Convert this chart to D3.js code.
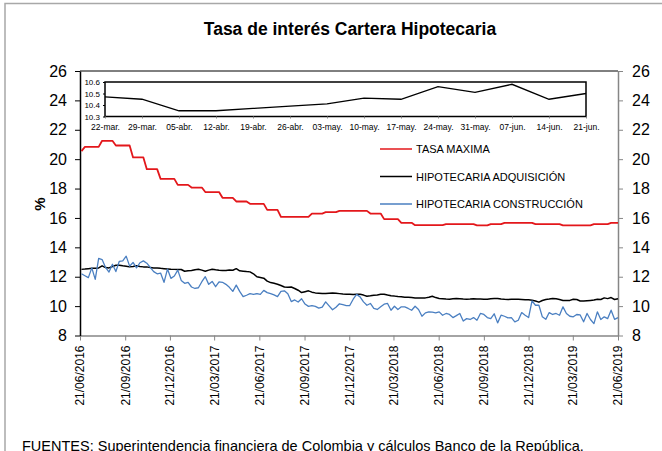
<!DOCTYPE html>
<html>
<head>
  <meta charset="utf-8">
  <title>Tasa de interés Cartera Hipotecaria</title>
  <script src="https://d3js.org/d3.v7.min.js"></script>
  <style>
    body { margin: 0; background: #fff; }
    svg { display: block; font-family: "Liberation Sans", Arial, sans-serif; }
  </style>
</head>
<body>
  <svg id="chart" width="662" height="451"></svg>

  <script>
    // Tasa maxima, un valor por mes (jun-2016 ... jun-2019)
    var tasaMaximaMensual = [
      20.55, 20.84, 21.25, 20.93, 20.12, 19.32, 18.66,
      18.25, 18.07, 17.76, 17.37, 17.12, 16.96, 16.55, 16.07, 16.07, 16.30, 16.39, 16.48,
      16.48, 16.30, 15.92, 15.67, 15.51, 15.51, 15.58, 15.58, 15.49, 15.58, 15.67, 15.67,
      15.58, 15.58, 15.49, 15.49, 15.58, 15.67
    ];

    // Series semanales (viernes 24/06/2016 ... 21/06/2019)
    var hipotecariaAdquisicion = [
      12.5, 12.52, 12.55, 12.57, 12.58, 12.6, 12.74, 12.62, 12.6, 12.7,
      12.78, 12.78, 12.74, 12.72, 12.67, 12.7, 12.74, 12.7, 12.67, 12.67,
      12.62, 12.6, 12.6, 12.57, 12.55, 12.53, 12.51, 12.5, 12.49, 12.49,
      12.37, 12.4, 12.42, 12.48, 12.51, 12.45, 12.37, 12.45, 12.51, 12.47,
      12.44, 12.43, 12.42, 12.46, 12.44, 12.55, 12.4, 12.38, 12.35, 12.33,
      12.2, 12.0, 11.95, 11.9, 11.7, 11.6, 11.55, 11.49, 11.4, 11.3,
      11.28, 11.3, 11.2, 11.08, 10.92, 10.98, 11.04, 10.95, 10.9, 10.88,
      10.86, 10.86, 10.88, 10.9, 10.88, 10.85, 10.82, 10.81, 10.8, 10.79,
      10.8, 10.81, 10.75, 10.67, 10.7, 10.74, 10.76, 10.8, 10.81, 10.75,
      10.7, 10.68, 10.65, 10.63, 10.61, 10.6, 10.58, 10.56, 10.56, 10.56,
      10.56, 10.6, 10.67, 10.58, 10.52, 10.5, 10.48, 10.47, 10.5, 10.52,
      10.5, 10.48, 10.47, 10.48, 10.5, 10.49, 10.48, 10.47, 10.47, 10.5,
      10.51, 10.52, 10.48, 10.46, 10.45, 10.46, 10.47, 10.47, 10.45, 10.43,
      10.43, 10.40, 10.35, 10.27, 10.38, 10.45, 10.48, 10.52, 10.5, 10.45,
      10.38, 10.38, 10.39,
      10.47, 10.45, 10.35, 10.35, 10.37, 10.39, 10.41, 10.46, 10.45, 10.56, 10.51, 10.58, 10.45, 10.50
    ];

    var hipotecariaConstruccion = [
      12.2, 12.07, 11.94, 12.6, 11.82, 13.25, 13.17, 12.63, 12.32, 12.85,
      12.35, 13.05, 13.08, 13.4, 12.72, 12.97, 12.6, 12.95, 13.08, 12.92,
      12.63, 12.35, 12.2, 12.25, 11.62, 12.52, 11.89, 12.05, 12.45, 11.75,
      11.55, 11.62, 11.3, 11.2, 11.25, 11.66, 12.0, 11.48, 11.68, 11.32,
      11.65, 11.62, 11.48, 11.28, 11.0, 11.43, 11.0, 10.65, 10.74, 10.85,
      10.8, 10.85, 10.8, 11.07, 10.92, 10.85, 10.76, 10.65, 11.0, 11.04,
      10.84, 10.31, 10.42, 10.28, 10.5, 10.14, 9.98, 10.03, 9.98, 9.86,
      9.93, 10.29, 10.02, 9.75, 9.92, 10.16, 10.1, 10.03, 10.04, 10.47,
      10.8, 10.63, 10.29, 10.06, 10.18, 9.84, 9.77, 9.95, 10.13, 10.18,
      9.72, 9.99, 9.77, 9.95, 9.95, 9.84, 9.72, 9.99, 9.77, 9.31,
      9.54, 9.61, 9.59, 9.54, 9.61, 9.38, 9.5, 9.43, 9.22, 9.35,
      9.5, 8.98, 9.15, 9.09, 9.22, 9.04, 9.5, 9.43, 9.22, 9.15,
      9.48, 8.86, 9.38, 9.31, 9.2, 9.22, 8.93, 9.04, 9.56, 9.38,
      9.22, 10.36, 10.06, 10.06, 9.27, 9.1, 9.56, 9.43, 9.5, 9.38,
      9.95, 9.5, 9.31, 9.27, 9.43, 9.4, 8.93, 9.5, 9.09, 8.81,
      9.61, 9.09, 9.27, 9.15, 9.72, 9.1, 9.22
    ];

    var ticksFechas = [
      "21/06/2016", "21/09/2016", "21/12/2016", "21/03/2017", "21/06/2017",
      "21/09/2017", "21/12/2017", "21/03/2018", "21/06/2018", "21/09/2018",
      "21/12/2018", "21/03/2019", "21/06/2019"
    ];
    var ticksY = [8, 10, 12, 14, 16, 18, 20, 22, 24, 26];

    // Recuadro: ultimas 14 semanas de adquisicion
    var insetFechas = [
      "22-mar.", "29-mar.", "05-abr.", "12-abr.", "19-abr.", "26-abr.", "03-may.",
      "10-may.", "17-may.", "24-may.", "31-may.", "07-jun.", "14-jun.", "21-jun."
    ];
    var insetTicksY = [10.3, 10.4, 10.5, 10.6];

    var nombresSeries = ["TASA MAXIMA", "HIPOTECARIA ADQUISICIÓN", "HIPOTECARIA CONSTRUCCIÓN"];
    var coloresSeries = ["#e3171b", "#000000", "#4a7fc1"];

    var parseFecha = d3.timeParse("%d/%m/%Y");
    var formatFecha = d3.timeFormat("%d/%m/%Y");

    // Fechas semanales (viernes)
    var fechas = d3.timeFriday.range(new Date(2016, 5, 24), new Date(2019, 5, 22));

    var data = fechas.map(function(d, i) {
      var mes = (d.getFullYear() - 2016) * 12 + d.getMonth() - 5;
      return {
        date: d,
        tasa: tasaMaximaMensual[mes],
        adq: hipotecariaAdquisicion[i],
        cons: hipotecariaConstruccion[i]
      };
    });

    var svg = d3.select("#chart");

    // Marco gris exterior
    svg.append("path")
      .attr("d", "M5,451V3.5H662")
      .attr("fill", "none")
      .attr("stroke", "#a8a8a8")
      .attr("stroke-width", 1.5);

    // Titulo
    svg.append("text")
      .attr("x", 350)
      .attr("y", 35)
      .attr("text-anchor", "middle")
      .attr("font-size", "17.5px")
      .attr("font-weight", "bold")
      .text("Tasa de interés Cartera Hipotecaria");

    // Escalas
    var plotLeft = 80, plotRight = 618, plotTop = 71, plotBottom = 335.5;
    var x = d3.scaleTime()
      .domain([parseFecha(ticksFechas[0]), parseFecha(ticksFechas[ticksFechas.length - 1])])
      .range([plotLeft, plotRight]);
    var y = d3.scaleLinear().domain([8, 26]).range([plotBottom, plotTop]);

    // Linea superior del area de trazado
    svg.append("line")
      .attr("x1", plotLeft).attr("x2", plotRight)
      .attr("y1", plotTop).attr("y2", plotTop)
      .attr("stroke", "#000")
      .attr("stroke-width", 1);

    // Eje X
    var xAxis = svg.append("g")
      .attr("transform", "translate(0," + plotBottom + ")")
      .call(d3.axisBottom(x)
        .tickValues(ticksFechas.map(parseFecha))
        .tickFormat(formatFecha)
        .tickSize(5)
        .tickSizeOuter(0));
    xAxis.select(".domain").attr("stroke", "#868686").attr("stroke-width", 1.5);
    xAxis.selectAll(".tick line").attr("stroke", "#868686");
    xAxis.selectAll("text")
      .attr("transform", "rotate(-90)")
      .attr("x", -10)
      .attr("y", 0)
      .attr("dy", "0.33em")
      .attr("text-anchor", "end")
      .attr("font-size", "12px")
      .attr("font-family", "Liberation Sans, Arial, sans-serif")
      .attr("fill", "#000");

    // Eje Y izquierdo
    var yLeft = svg.append("g")
      .attr("transform", "translate(" + plotLeft + ",0)")
      .call(d3.axisLeft(y).tickValues(ticksY).tickSize(5).tickPadding(8).tickSizeOuter(0));
    yLeft.select(".domain").attr("stroke", "#000").attr("stroke-width", 1.5);
    yLeft.selectAll(".tick line").attr("stroke", "#000");
    yLeft.selectAll("text")
      .attr("font-size", "16px")
      .attr("font-family", "Liberation Sans, Arial, sans-serif")
      .attr("fill", "#000");

    // Eje Y derecho
    var yRight = svg.append("g")
      .attr("transform", "translate(" + plotRight + ",0)")
      .call(d3.axisRight(y).tickValues(ticksY).tickSize(5).tickPadding(9).tickSizeOuter(0));
    yRight.select(".domain").attr("stroke", "#868686").attr("stroke-width", 1.5);
    yRight.selectAll(".tick line").attr("stroke", "#868686");
    yRight.selectAll("text")
      .attr("font-size", "16px")
      .attr("font-family", "Liberation Sans, Arial, sans-serif")
      .attr("fill", "#000");

    // Titulo eje Y
    svg.append("text")
      .attr("transform", "translate(39,204) rotate(-90)")
      .attr("text-anchor", "middle")
      .attr("dominant-baseline", "central")
      .attr("font-size", "15px")
      .attr("font-weight", "bold")
      .text("%");

    // Lineas
    var keys = ["tasa", "adq", "cons"];
    var anchos = [1.8, 1.5, 1.3];
    keys.forEach(function(k, i) {
      var line = d3.line()
        .x(function(d) { return x(d.date); })
        .y(function(d) { return y(d[k]); });
      svg.append("path")
        .datum(data)
        .attr("fill", "none")
        .attr("stroke", coloresSeries[i])
        .attr("stroke-width", anchos[i])
        .attr("stroke-linejoin", "round")
        .attr("d", line);
    });

    // Leyenda
    var legend = svg.append("g");
    nombresSeries.forEach(function(name, i) {
      var ly = 149 + i * 27.5;
      legend.append("line")
        .attr("x1", 380).attr("x2", 412)
        .attr("y1", ly).attr("y2", ly)
        .attr("stroke", coloresSeries[i])
        .attr("stroke-width", 1.5);
      legend.append("text")
        .attr("x", 416)
        .attr("y", ly + 4)
        .attr("font-size", "11px")
        .text(name);
    });

    // Recuadro con las ultimas semanas
    var insetData = hipotecariaAdquisicion.slice(-insetFechas.length);
    var xi = d3.scalePoint().domain(insetFechas).range([105, 586]);
    var yi = d3.scaleLinear().domain([10.3, 10.6]).range([116.5, 82]);

    svg.append("rect")
      .attr("x", 105).attr("y", 82)
      .attr("width", 586 - 105).attr("height", 116.5 - 82)
      .attr("fill", "#fff")
      .attr("stroke", "#000")
      .attr("stroke-width", 1.5);

    var yiAxis = svg.append("g")
      .attr("transform", "translate(105,0)")
      .call(d3.axisLeft(yi).tickValues(insetTicksY).tickFormat(d3.format(".1f"))
        .tickSize(2).tickPadding(3).tickSizeOuter(0));
    yiAxis.select(".domain").remove();
    yiAxis.selectAll("text")
      .attr("font-size", "8px")
      .attr("font-family", "Liberation Sans, Arial, sans-serif")
      .attr("fill", "#000");

    var xiAxis = svg.append("g")
      .attr("transform", "translate(0,116.5)")
      .call(d3.axisBottom(xi).tickSize(2).tickPadding(5).tickSizeOuter(0));
    xiAxis.select(".domain").remove();
    xiAxis.selectAll(".tick line").attr("stroke", "#888");
    xiAxis.selectAll("text")
      .attr("font-size", "8.5px")
      .attr("font-family", "Liberation Sans, Arial, sans-serif")
      .attr("fill", "#000");

    svg.append("path")
      .datum(insetData)
      .attr("fill", "none")
      .attr("stroke", "#000")
      .attr("stroke-width", 1.3)
      .attr("d", d3.line()
        .x(function(d, i) { return xi(insetFechas[i]); })
        .y(function(d) { return yi(d); }));

    // Fuente
    svg.append("text")
      .attr("x", 22)
      .attr("y", 451)
      .attr("font-size", "14.5px")
      .text("FUENTES: Superintendencia financiera de Colombia y cálculos Banco de la República.");
  </script>
</body>
</html>
